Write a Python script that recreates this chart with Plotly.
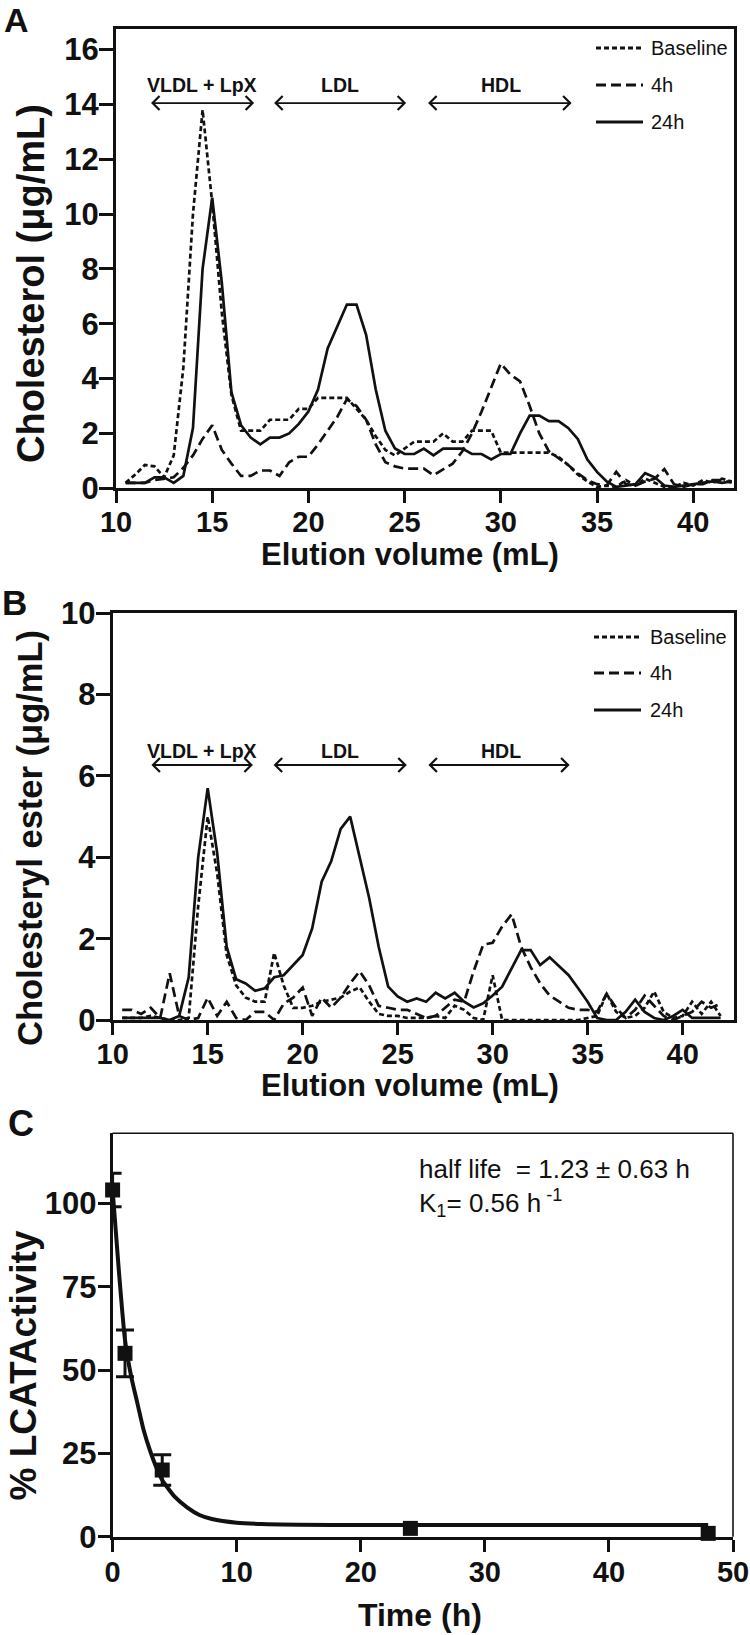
import plotly.graph_objects as go

# ---------------- data ----------------
elution_ml = [10.5, 11, 11.5, 12, 12.5, 13, 13.5, 14, 14.5, 15, 15.5, 16, 16.5, 17, 17.5, 18,
              18.5, 19, 19.5, 20, 20.5, 21, 21.5, 22, 22.5, 23, 23.5, 24, 24.5, 25, 25.5, 26,
              26.5, 27, 27.5, 28, 28.5, 29, 29.5, 30, 30.5, 31, 31.5, 32, 32.5, 33, 33.5, 34,
              34.5, 35, 35.5, 36, 36.5, 37, 37.5, 38, 38.5, 39, 39.5, 40, 40.5, 41, 41.5, 42]

chol_baseline = [0.2, 0.5, 0.85, 0.8, 0.4, 1.2, 4.4, 10.0, 13.8, 10.4, 6.4, 3.4, 2.1, 2.1, 2.1, 2.5,
                 2.5, 2.5, 2.9, 2.9, 3.3, 3.3, 3.3, 3.3, 2.9, 2.5, 1.9, 1.4, 1.2, 1.45, 1.7, 1.7,
                 1.7, 2.0, 1.7, 1.7, 2.1, 2.1, 2.1, 1.3, 1.3, 1.3, 1.3, 1.3, 1.3, 1.15, 0.85, 0.5,
                 0.25, 0.05, 0.1, 0.05, 0.3, 0.1, 0.35, 0.2, 0.05, 0.05, 0.2, 0.1, 0.3, 0.2, 0.35, 0.25]
chol_4h = [0.2, 0.2, 0.2, 0.3, 0.35, 0.4, 0.75, 1.2, 1.8, 2.3, 1.4, 0.9, 0.45, 0.45, 0.65, 0.65,
           0.45, 0.95, 1.15, 1.15, 1.6, 2.1, 2.6, 3.25, 3.0, 2.5, 1.6, 0.95, 0.8, 0.72, 0.72, 0.72,
           0.48, 0.68, 0.9, 1.35, 2.0, 2.8, 3.7, 4.55, 4.15, 3.9, 3.0, 2.0, 1.35, 1.1, 0.85, 0.55,
           0.3, 0.15, 0.1, 0.6, 0.15, 0.1, 0.25, 0.35, 0.7, 0.15, 0.05, 0.15, 0.15, 0.3, 0.3, 0.2]
chol_24h = [0.2, 0.2, 0.2, 0.4, 0.4, 0.2, 0.45, 2.2, 8.0, 10.6, 7.5, 3.5, 2.3, 1.85, 1.6, 1.85,
            1.85, 2.0, 2.35, 2.8, 3.6, 5.1, 5.9, 6.7, 6.7, 5.6, 3.6, 2.1, 1.45, 1.25, 1.25, 1.45,
            1.2, 1.45, 1.45, 1.45, 1.25, 1.25, 1.05, 1.25, 1.25, 2.0, 2.65, 2.65, 2.45, 2.45, 2.2, 1.8,
            1.05, 0.6, 0.25, 0.05, 0.1, 0.15, 0.55, 0.4, 0.1, 0.05, 0.1, 0.15, 0.2, 0.25, 0.2, 0.25]

ce_baseline = [0.05, 0.05, 0.05, 0.1, 0.05, 0.0, 0.0, 0.05, 2.8, 5.0, 3.6, 1.6, 0.85, 0.55, 0.45, 0.45,
               1.65, 0.85, 0.3, 0.3, 0.35, 0.45, 0.5, 0.55, 0.7, 0.8, 0.45, 0.15, 0.1, 0.1, 0.05, 0.05,
               0.05, 0.1, 0.05, 0.35, 0.25, 0.05, 0.0, 1.1, 0.0, 0.0, 0.0, 0.0, 0.0, 0.0, 0.0, 0.0,
               0.0, 0.05, 0.1, 0.65, 0.2, 0.05, 0.1, 0.3, 0.7, 0.2, 0.05, 0.1, 0.45, 0.15, 0.45, 0.1]
ce_4h = [0.25, 0.25, 0.15, 0.3, 0.05, 1.15, 0.1, 0.0, 0.05, 0.55, 0.1, 0.45, 0.05, 0.0, 0.2, 0.2,
         0.0, 0.4, 0.55, 0.8, 0.1, 0.55, 0.3, 0.55, 0.9, 1.2, 0.85, 0.35, 0.3, 0.25, 0.25, 0.15,
         0.05, 0.1, 0.3, 0.5, 0.45, 1.2, 1.85, 1.9, 2.3, 2.6, 1.8, 1.3, 0.9, 0.6, 0.45, 0.3,
         0.25, 0.25, 0.2, 0.65, 0.3, 0.05, 0.25, 0.6, 0.35, 0.1, 0.0, 0.1, 0.2, 0.45, 0.3, 0.4]
ce_24h = [0.05, 0.05, 0.05, 0.05, 0.05, 0.0, 0.1, 1.05, 4.0, 5.7, 4.1, 1.8, 1.0, 0.9, 0.72, 0.78,
          1.05, 1.1, 1.35, 1.6, 2.25, 3.4, 3.9, 4.7, 5.0, 4.0, 3.0, 1.8, 0.82, 0.58, 0.45, 0.53,
          0.45, 0.67, 0.53, 0.67, 0.45, 0.31, 0.41, 0.6, 0.82, 1.27, 1.72, 1.72, 1.35, 1.54, 1.31, 1.1,
          0.78, 0.45, 0.05, 0.0, 0.0, 0.2, 0.5, 0.2, 0.05, 0.0, 0.1, 0.25, 0.05, 0.05, 0.05, 0.05]

lcat_time_h = [0, 1, 4]
lcat_pct = [104, 55, 20]
lcat_sem = [5, 7, 4.6]
lcat_time_late = [24, 48]
lcat_pct_late = [2.5, 1.0]

fit_time_h = [0, 0.5, 1, 1.5, 2, 2.5, 3, 3.5, 4, 5, 6, 7, 8, 10, 12, 15, 20, 30, 48]
fit_pct = [104, 80, 59, 48, 40, 32, 26, 21, 17, 12, 8.8, 6.5, 5.3, 4.2, 3.8, 3.6, 3.5, 3.5, 3.5]

series_names = ["Baseline", "4h", "24h"]
region_names = ["VLDL + LpX", "LDL", "HDL"]

# ---------------- layout helpers ----------------
W, H = 750, 1635
def PX(x):
    return x / W
def PY(y):
    return 1 - y / H

FONT = "Liberation Sans, Arial, sans-serif"
BLACK = "#111111"
DASHES = {"Baseline": "5px,3px", "4h": "10px,5px", "24h": "solid"}

fig = go.Figure()

def add_profile(xa, ya, ys):
    for name, y in zip(series_names, ys):
        fig.add_trace(go.Scatter(x=elution_ml, y=y, mode="lines", name=name, xaxis=xa, yaxis=ya,
                                 line=dict(color=BLACK, width=2.7, dash=DASHES[name]),
                                 showlegend=False, hoverinfo="skip"))

add_profile("x", "y", [chol_baseline, chol_4h, chol_24h])
add_profile("x2", "y2", [ce_baseline, ce_4h, ce_24h])

fig.add_trace(go.Scatter(x=fit_time_h, y=fit_pct, mode="lines", xaxis="x3", yaxis="y3",
                         line=dict(color=BLACK, width=4, shape="spline", smoothing=0.6),
                         showlegend=False, hoverinfo="skip", cliponaxis=False))
fig.add_trace(go.Scatter(x=lcat_time_h, y=lcat_pct, mode="markers", xaxis="x3", yaxis="y3",
                         marker=dict(symbol="square", size=15, color=BLACK),
                         error_y=dict(type="data", array=lcat_sem, color=BLACK, thickness=3, width=9),
                         showlegend=False, cliponaxis=False))
fig.add_trace(go.Scatter(x=lcat_time_late, y=lcat_pct_late, mode="markers", xaxis="x3", yaxis="y3",
                         marker=dict(symbol="square", size=15, color=BLACK),
                         showlegend=False, cliponaxis=False))

tickfont_y = dict(family=FONT, size=31, color=BLACK, weight="bold")
tickfont_x = dict(family=FONT, size=29, color=BLACK, weight="bold")

def axis(domain, rng, dtick, tickfont, anchor, mirror=True, lw=3, ticklen=14, standoff=0):
    return dict(domain=domain, range=rng, dtick=dtick, showgrid=False, zeroline=False,
                showline=True, linecolor=BLACK, linewidth=lw, mirror=mirror,
                ticks="outside", ticklen=ticklen, tickwidth=3, tickcolor=BLACK,
                tickfont=tickfont, fixedrange=True, automargin=False, anchor=anchor,
                ticklabelstandoff=standoff)

fig.update_layout(
    template="none",
    width=W, height=H, margin=dict(l=0, r=0, t=0, b=0, autoexpand=False),
    paper_bgcolor="white", plot_bgcolor="white", showlegend=False,
    xaxis=axis([PX(116), PX(734)], [10, 42.12], 5, tickfont_x, "y", ticklen=12, standoff=-6),
    yaxis=axis([PY(488.3), PY(29)], [0, 16.75], 2, tickfont_y, "x", standoff=-6),
    xaxis2=axis([PX(112.7), PX(734.3)], [10, 42.72], 5, tickfont_x, "y2", ticklen=12, standoff=-6),
    yaxis2=axis([PY(1020), PY(613.3)], [0, 10], 2, tickfont_y, "x2", standoff=-6),
    xaxis3=axis([PX(112.6), PX(733)], [0, 50], 10, tickfont_x, "y3", mirror=False, ticklen=12, standoff=-5),
    yaxis3=axis([PY(1536.7), PY(1133.3)], [0, 121], 25, tickfont_y, "x3", mirror=False, ticklen=12, standoff=-5),
)

shapes = []
# thin frame top/right for panel C
shapes.append(dict(type="line", xref="x3 domain", yref="y3 domain", x0=0, x1=1, y0=1, y1=1,
                   line=dict(color=BLACK, width=1.6)))
shapes.append(dict(type="line", xref="x3 domain", yref="y3 domain", x0=1, x1=1, y0=0, y1=1,
                   line=dict(color=BLACK, width=1.6)))

annotations = []

def legend(ys, sx0, sx1, tx):
    for name, yy in zip(series_names, ys):
        shapes.append(dict(type="line", xref="paper", yref="paper", x0=PX(sx0), x1=PX(sx1),
                           y0=PY(yy), y1=PY(yy),
                           line=dict(color=BLACK, width=3, dash=DASHES[name])))
        annotations.append(dict(text=name, xref="paper", yref="paper", x=PX(tx), y=PY(yy),
                                xanchor="left", yanchor="middle", showarrow=False,
                                font=dict(family=FONT, size=20, color=BLACK)))

legend([48, 85, 122], 596, 643, 649)
legend([637, 673, 710], 594, 641, 648)

def regions(xa, ya, arrows, label_x, arrow_y, label_y):
    for name, (a0, a1), lx in zip(region_names, arrows, label_x):
        shapes.append(dict(type="line", xref=xa, yref=ya, x0=a0, x1=a1, y0=arrow_y, y1=arrow_y,
                           line=dict(color=BLACK, width=1.8)))
        for anchor_x, path in ((a0, "M 7,7 L 0,0 L 7,-7"), (a1, "M -7,7 L 0,0 L -7,-7")):
            shapes.append(dict(type="path", xref=xa, yref=ya, xsizemode="pixel", ysizemode="pixel",
                               xanchor=anchor_x, yanchor=arrow_y, path=path,
                               line=dict(color=BLACK, width=2.2)))
        annotations.append(dict(text="<b>%s</b>" % name, x=lx, y=label_y, xref=xa, yref=ya,
                                showarrow=False, xanchor="center", yanchor="middle",
                                font=dict(family=FONT, size=19.5, color=BLACK)))

regions("x", "y", [(11.9, 17.1), (18.3, 25.0), (26.3, 33.6)], [14.45, 21.64, 30.01], 14.05, 14.72)
regions("x2", "y2", [(12.12, 17.3), (18.55, 25.4), (26.7, 33.97)], [14.68, 21.96, 30.44], 6.27, 6.62)

def text(t, x, y, size, angle=0, bold=True, xanchor="center", yanchor="middle"):
    annotations.append(dict(text=("<b>%s</b>" % t) if bold else t, xref="paper", yref="paper",
                            x=PX(x), y=PY(y), showarrow=False, textangle=angle,
                            xanchor=xanchor, yanchor=yanchor,
                            font=dict(family=FONT, size=size, color=BLACK)))

# panel letters
text("A", 16, 20, 34)
text("B", 14, 603, 35)
text("C", 21, 1123, 36)
# axis titles
text("Cholesterol (μg/mL)", 31, 284, 38, angle=-90)
text("Elution volume (mL)", 410, 555, 31)
text("Cholesteryl ester (μg/mL)", 30, 838, 34.5, angle=-90)
text("Elution volume (mL)", 410, 1085, 31)
text("% LCATActivity", 22.5, 1366, 37, angle=-90)
text("Time (h)", 420, 1615, 32)
# fit parameters
text("half life  = 1.23 ± 0.63 h<br>K<sub>1</sub>= 0.56 h<sup> -1</sup>", 417, 1152, 26,
     bold=False, xanchor="left", yanchor="top")
annotations[-1]["align"] = "left"

fig.update_layout(shapes=shapes, annotations=annotations)
fig.write_html("out.html", config={"displayModeBar": False},
               post_script="document.body.style.margin='0px';document.body.style.padding='0px';")
